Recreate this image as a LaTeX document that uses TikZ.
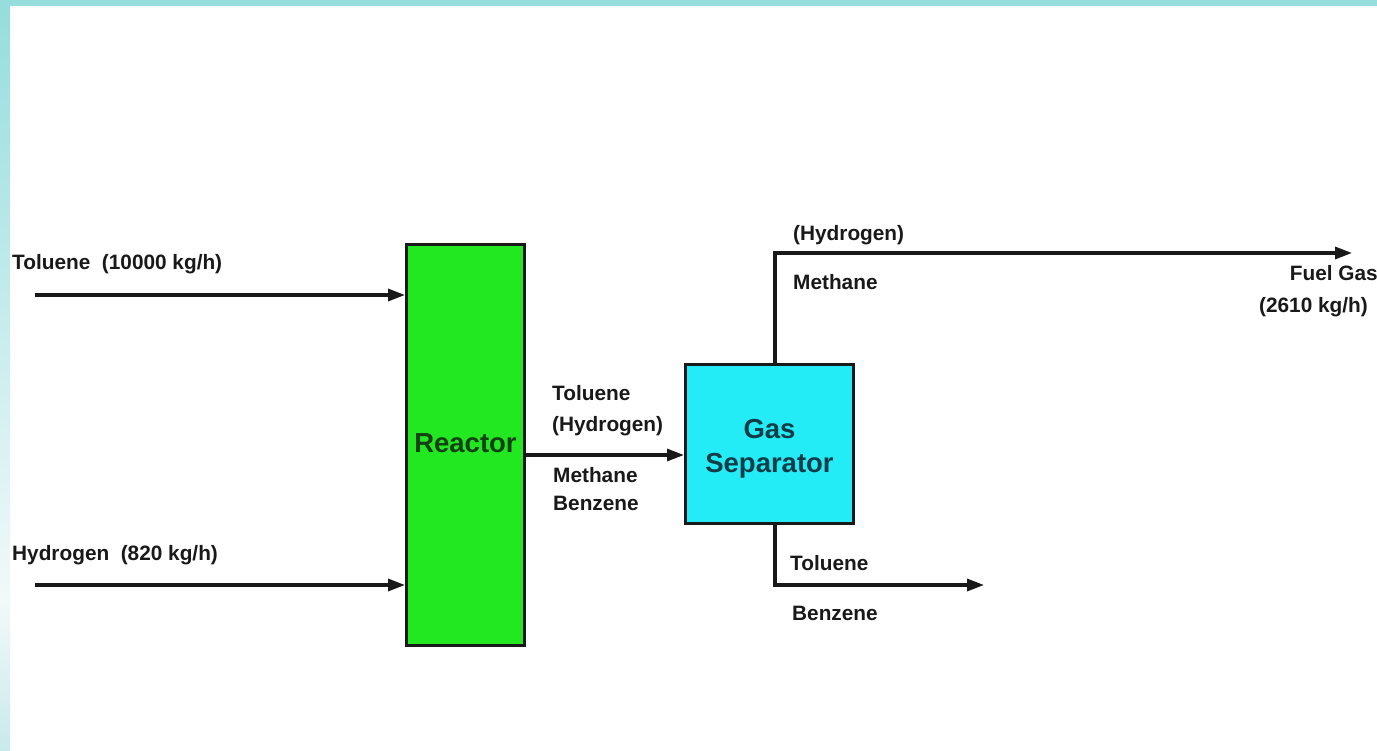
\documentclass[tikz,border=0pt]{standalone}
\usepackage{fontspec}
\setmainfont{Liberation Sans}
\usetikzlibrary{arrows.meta}
\definecolor{band}{RGB}{150,221,222}
\definecolor{bandlight}{RGB}{242,249,249}
\definecolor{bandlow}{RGB}{200,233,235}
\definecolor{reactorgreen}{RGB}{34,232,34}
\definecolor{sepcyan}{RGB}{36,236,246}
\definecolor{ink}{RGB}{25,25,25}
\definecolor{reactortext}{RGB}{20,62,20}
\definecolor{septext}{RGB}{15,60,70}
\begin{document}
\begin{tikzpicture}[x=1pt,y=-1pt,
  lbl/.style={font=\fontsize{20.8}{24}\selectfont\bfseries, text=ink, inner sep=0pt, anchor=base west},
  lblr/.style={lbl, anchor=base east},
  unit/.style={draw=ink, line width=3pt, inner sep=0pt, font=\fontsize{27.5}{34}\selectfont\bfseries},
  reactorbox/.style={unit, fill=reactorgreen, text=reactortext, minimum width=118pt, minimum height=401pt},
  sepbox/.style={unit, fill=sepcyan, text=septext, minimum width=168pt, minimum height=159pt, align=center},
  flow/.style={draw=ink, line width=3.2pt, line join=miter, -{Triangle[length=17pt,width=12pt]}}
]
\useasboundingbox (0,0) rectangle (1377,751);
\fill[white] (0,0) rectangle (1377,751);
\fill[band] (0,0) rectangle (1377,6);
\shade[top color=band, bottom color=bandlight] (0,6) rectangle (10,600);
\shade[top color=bandlight, bottom color=bandlow] (0,600) rectangle (10,751);

% units
\node[reactorbox] (reactor) at (465.5,445) {Reactor\rule[-4pt]{0pt}{4pt}};
\node[sepbox] (sep) at (769.5,444) {\rule{0pt}{28pt}Gas\\Separator};

% connector points
\coordinate (tin) at (35,295);
\coordinate (hin) at (35,585);
\coordinate (mid) at (0,455);
\coordinate (vx) at (775,0);
\coordinate (fuel) at (1352,253);
\coordinate (prod) at (984,585);

% streams
\draw[flow] (tin) -- (tin -| reactor.west);
\draw[flow] (hin) -- (hin -| reactor.west);
\draw[flow] (reactor.east |- mid) -- (sep.west |- mid);
\draw[flow] (sep.north -| vx) |- (fuel);
\draw[flow] (sep.south -| vx) |- (prod);

% labels
\node[lbl] (ltol) at (12,270) {Toluene\ \ (10000 kg/h)};
\node[lbl] (lhyd) at (12,560) {Hydrogen\ \ (820 kg/h)};

\node[lbl] (m1) at (552,400.5) {Toluene};
\node[lbl] (m2) at (552,431.5) {(Hydrogen)};
\node[lbl] (m3) at (553,482.5) {Methane};
\node[lbl] (m4) at (553,510.5) {Benzene};

\node[lbl] (t1) at (793,240.5) {(Hydrogen)};
\node[lbl] (t2) at (793,289.5) {Methane};
\node[lblr] (f1) at (1378,280.5) {Fuel Gas};
\node[lblr] (f2) at (1368,312.5) {(2610 kg/h)};

\node[lbl] (b1) at (790,570.5) {Toluene};
\node[lbl] (b2) at (792,620.5) {Benzene};
\end{tikzpicture}
\end{document}
